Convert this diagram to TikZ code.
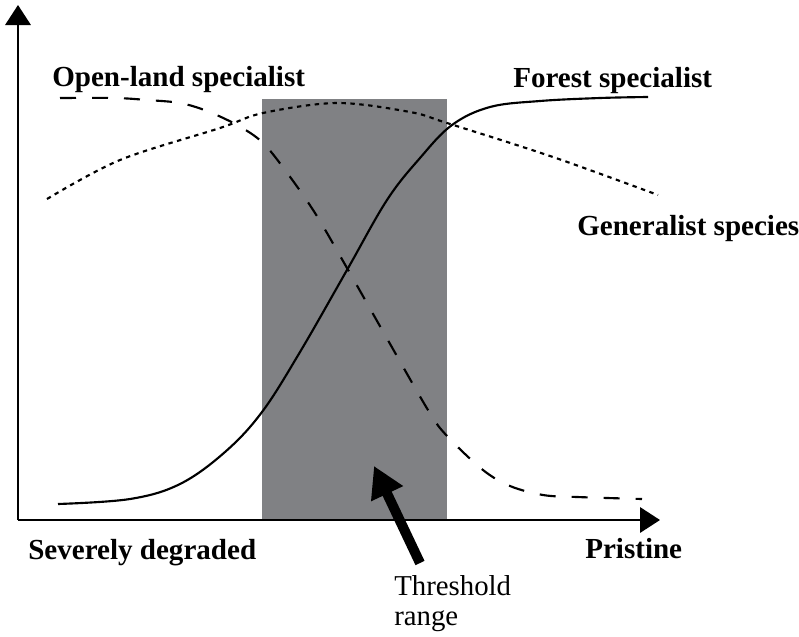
\documentclass[tikz,border=0pt]{standalone}
\usepackage{fontspec}
\setmainfont{Liberation Serif}
\usetikzlibrary{arrows.meta}
\definecolor{bandgray}{HTML}{808184}
\tikzset{
  axis/.style={line width=1.8pt, -{Triangle[length=15pt,width=19pt]}},
  lbl/.style={anchor=base west, inner sep=0pt, font=\fontsize{21.8}{21.8}\selectfont\bfseries},
  thr/.style={anchor=base west, inner sep=0pt, align=left, font=\fontsize{21.6}{21.8}\selectfont},
  forest/.style={line width=1.6pt},
  openland/.style={line width=1.6pt, dash pattern=on 12pt off 12pt},
  general/.style={line width=1.6pt, dash pattern=on 3.3pt off 3.4pt},
  bigarrow/.style={line width=7.5pt, -{Triangle[length=23pt,width=25pt]}}
}
\begin{document}
\begin{tikzpicture}[x=0.75pt,y=-0.75pt]
\useasboundingbox (0,0) rectangle (799,636);
\fill[bandgray] (262,99) rectangle (447,520);
% axes
\coordinate (O) at (18,520);
\coordinate (ytip) at (18,5);
\coordinate (xtip) at (660,520);
\draw[axis] (O) -- (ytip);
\draw[axis] (O) -- (xtip);
% curves
\draw[forest] plot[smooth, tension=0.6] coordinates {(58,504) (130,499) (180,484) (225,452) (262,412) (300,352) (347,270) (387,200) (420,158) (452,125) (490,107) (540,101) (600,98) (648,97)};
\draw[openland] plot[smooth, tension=0.55] coordinates {(60,98) (115,98) (147,100) (180,103) (207,111) (237,125) (262,142) (285,170) (315,213) (347,268) (385,335) (428,410) (447,436) (483,470) (510,486) (543,495) (577,497) (642,499)};
\draw[general] plot[smooth, tension=0.55] coordinates {(47,199) (120,160) (220,128) (263,113) (337,103) (410,112) (447,123) (553,157) (658,195)};
% labels
\node[lbl] (open) at (52,86) {Open-land specialist};
\node[lbl] (forestl) at (513,87) {Forest specialist};
\node[lbl] (gen) at (577,235) {Generalist species};
\node[lbl] (sev) at (28,559) {Severely degraded};
\node[lbl] (pri) at (585,558) {Pristine};
\node[thr] (thrl) at (394,625) {Threshold\\range};
% threshold arrow
\coordinate (atail) at (420,563);
\coordinate (ahead) at (374,466);
\draw[bigarrow] (atail) -- (ahead);
\end{tikzpicture}
\end{document}
